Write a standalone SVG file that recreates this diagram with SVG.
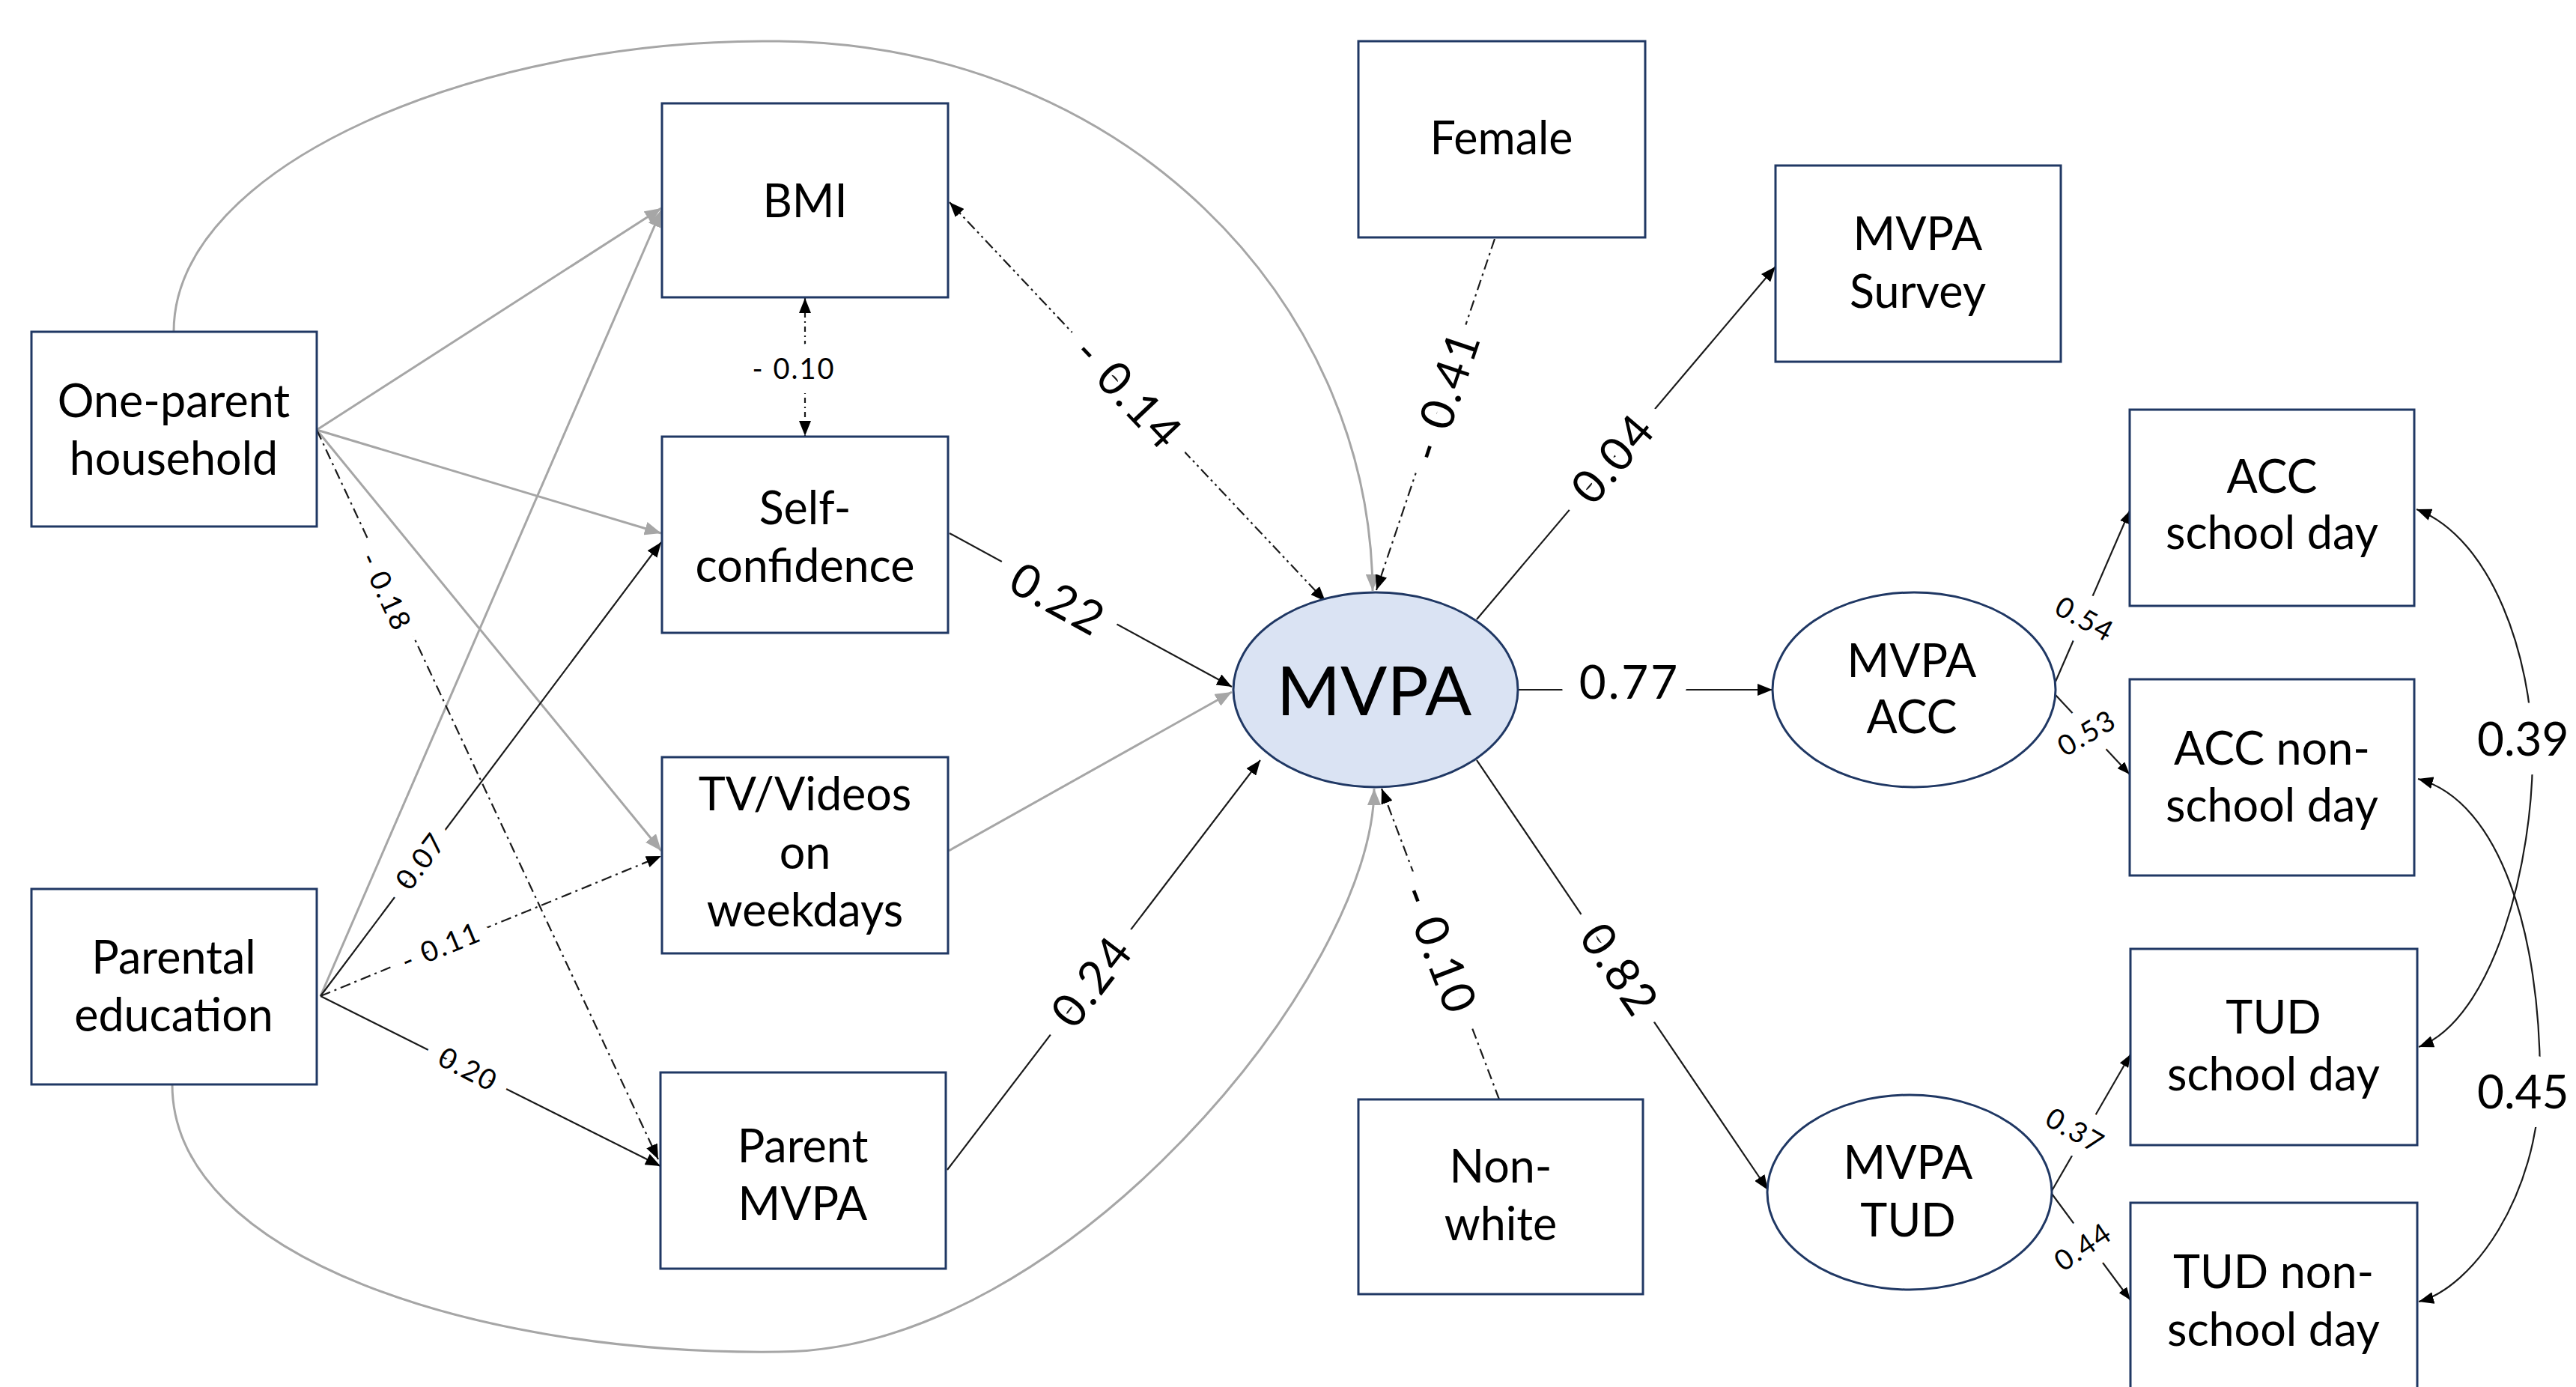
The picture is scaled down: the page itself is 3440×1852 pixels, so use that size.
<svg xmlns="http://www.w3.org/2000/svg" width="3440" height="1852" viewBox="0 0 3440 1852">
<style>
.box{fill:#fff;stroke:#203864;stroke-width:3}
.ell{fill:#fff;stroke:#203864;stroke-width:3}
.n{font-family:Lato,"Liberation Sans",sans-serif;font-size:61px;text-anchor:middle;fill:#000}
.g{fill:none;stroke:#a6a6a6;stroke-width:3}
.b{fill:none;stroke:#1a1a1a;stroke-width:2.2}
.dd{stroke-dasharray:14 6 3 6}
.ddd{stroke-dasharray:14 5 3 5 3 5}
.dv{stroke-dasharray:7 5 2 5}
.lb{font-family:Lato,"Liberation Sans",sans-serif;font-size:62px;letter-spacing:3px;text-anchor:middle;fill:#000;stroke:#fff;stroke-width:50;stroke-linejoin:round;paint-order:stroke}
.ls{font-family:Lato,"Liberation Sans",sans-serif;font-size:38px;letter-spacing:2px;text-anchor:middle;fill:#000;stroke:#fff;stroke-width:38;stroke-linejoin:round;paint-order:stroke}
.edge{letter-spacing:0;text-anchor:start}
</style>
<defs>
<marker id="ab" viewBox="0 0 20 16" refX="20" refY="8" markerWidth="20" markerHeight="16" markerUnits="userSpaceOnUse" orient="auto-start-reverse"><path d="M0,0 L20,8 L0,16 z" fill="#000"/></marker>
<marker id="ag" viewBox="0 0 22 18" refX="22" refY="9" markerWidth="22" markerHeight="18" markerUnits="userSpaceOnUse" orient="auto-start-reverse"><path d="M0,0 L22,9 L0,18 z" fill="#a6a6a6"/></marker>
<marker id="as" viewBox="0 0 17 13" refX="17" refY="6.5" markerWidth="17" markerHeight="13" markerUnits="userSpaceOnUse" orient="auto-start-reverse"><path d="M0,0 L17,6.5 L0,13 z" fill="#000"/></marker>
</defs>
<rect x="0" y="0" width="3440" height="1852" fill="#fff"/>
<g id="connectors">
<path class="g" marker-end="url(#ag)" d="M232,443 C232,220 640,50 1040,55 C1500,60 1830,400 1833,789"/>
<path class="g" marker-end="url(#ag)" d="M230,1448 C230,1680 640,1810 1040,1805 C1420,1805 1835,1300 1835,1053"/>
<line class="g" marker-end="url(#ag)" x1="423" y1="574" x2="883" y2="278"/>
<line class="g" marker-end="url(#ag)" x1="428" y1="1330" x2="883" y2="281"/>
<line class="g" marker-end="url(#ag)" x1="423" y1="574" x2="883" y2="712"/>
<line class="g" marker-end="url(#ag)" x1="423" y1="574" x2="883" y2="1136"/>
<line class="g" marker-end="url(#ag)" x1="1267" y1="1136" x2="1645" y2="924"/>
<line class="b" marker-end="url(#ab)" x1="428" y1="1330" x2="883" y2="724"/>
<line class="b dd" marker-end="url(#ab)" x1="428" y1="1330" x2="883" y2="1143"/>
<line class="b" marker-end="url(#ab)" x1="428" y1="1330" x2="882" y2="1557"/>
<line class="b dd" marker-end="url(#ab)" x1="423" y1="574" x2="879" y2="1548"/>
<line class="b dv" marker-start="url(#ab)" marker-end="url(#ab)" x1="1075" y1="398" x2="1075" y2="582"/>
<line class="b ddd" marker-start="url(#ab)" marker-end="url(#ab)" x1="1268" y1="270" x2="1770" y2="803"/>
<line class="b" marker-end="url(#ab)" x1="1268" y1="712" x2="1645" y2="917"/>
<line class="b" marker-end="url(#ab)" x1="1265" y1="1562" x2="1683" y2="1015"/>
<line class="b dd" marker-end="url(#ab)" x1="1996" y1="319" x2="1838" y2="788"/>
<line class="b dd" marker-end="url(#ab)" x1="2002" y1="1468" x2="1845" y2="1053"/>
<line class="b" marker-end="url(#ab)" x1="1972" y1="827" x2="2371" y2="356"/>
<line class="b" marker-end="url(#ab)" x1="2027" y1="921" x2="2367" y2="921"/>
<line class="b" marker-end="url(#ab)" x1="1972" y1="1015" x2="2361" y2="1589"/>
<line class="b" marker-end="url(#as)" x1="2745" y1="910" x2="2844" y2="682"/>
<line class="b" marker-end="url(#as)" x1="2745" y1="928" x2="2844" y2="1034"/>
<line class="b" marker-end="url(#as)" x1="2740" y1="1590" x2="2845" y2="1408"/>
<line class="b" marker-end="url(#as)" x1="2740" y1="1594" x2="2845" y2="1736"/>
<path class="b" marker-start="url(#ab)" marker-end="url(#ab)" d="M3227,680 C3330,720 3380,880 3382,1000 C3384,1150 3330,1360 3230,1398"/>
<path class="b" marker-start="url(#ab)" marker-end="url(#ab)" d="M3229,1040 C3340,1070 3392,1250 3392,1440 C3390,1600 3300,1720 3230,1738"/>
<text class="lb" transform="translate(1507,525) rotate(46.7)" y="22">- 0.14</text>
<text class="lb" transform="translate(1413,800) rotate(28.7)" y="22">0.22</text>
<text class="lb" transform="translate(1458,1310) rotate(-52.6)" y="22">0.24</text>
<text class="lb" transform="translate(1929,528) rotate(-71.3)" y="22">- 0.41</text>
<text class="lb" transform="translate(1922,1268) rotate(69)" y="22">- 0.10</text>
<text class="lb" transform="translate(2154,612) rotate(-49.8)" y="22">0.04</text>
<text class="lb" x="2176" y="933">0.77</text>
<text class="lb" transform="translate(2163,1295) rotate(55.9)" y="22">0.82</text>
<text class="lb edge" x="3308" y="1009">0.39</text>
<text class="lb edge" x="3308" y="1480">0.45</text>
<text class="ls" x="1060" y="506">- 0.10</text>
<text class="ls" transform="translate(515,790) rotate(65.1)" y="13">- 0.18</text>
<text class="ls" transform="translate(562,1150) rotate(-53.2)" y="13">0.07</text>
<text class="ls" transform="translate(589,1264) rotate(-22.4)" y="13">- 0.11</text>
<text class="ls" transform="translate(625,1428) rotate(27.4)" y="13">0.20</text>
<text class="ls" transform="translate(2784,827) rotate(29)" y="13">0.54</text>
<text class="ls" transform="translate(2787,979) rotate(-30.6)" y="13">0.53</text>
<text class="ls" transform="translate(2771,1510) rotate(29.6)" y="13">0.37</text>
<text class="ls" transform="translate(2782,1665) rotate(-34)" y="13">0.44</text>
</g>
<g id="node-one-parent"><rect class="box" x="42" y="443" width="381" height="260"/><text class="n" x="232" y="557">One-parent</text><text class="n" x="232" y="634">household</text></g>
<g id="node-parental-education"><rect class="box" x="42" y="1187" width="381" height="261"/><text class="n" x="232" y="1300">Parental</text><text class="n" x="232" y="1377">education</text></g>
<g id="node-bmi"><rect class="box" x="884" y="138" width="382" height="259"/><text class="n" x="1075" y="290">BMI</text></g>
<g id="node-self-confidence"><rect class="box" x="884" y="583" width="382" height="262"/><text class="n" x="1075" y="700">Self-</text><text class="n" x="1075" y="777">confidence</text></g>
<g id="node-tv"><rect class="box" x="884" y="1011" width="382" height="262"/><text class="n" x="1075" y="1082">TV/Videos</text><text class="n" x="1075" y="1160">on</text><text class="n" x="1075" y="1237">weekdays</text></g>
<g id="node-parent-mvpa"><rect class="box" x="882" y="1432" width="381" height="262"/><text class="n" x="1072" y="1552">Parent</text><text class="n" x="1072" y="1629">MVPA</text></g>
<g id="node-female"><rect class="box" x="1814" y="55" width="383" height="262"/><text class="n" x="2005" y="206">Female</text></g>
<g id="node-non-white"><rect class="box" x="1814" y="1468" width="380" height="260"/><text class="n" x="2004" y="1579">Non-</text><text class="n" x="2004" y="1656">white</text></g>
<g id="node-mvpa"><ellipse class="ell" cx="1837" cy="921" rx="190" ry="130" style="fill:#dae3f3"/><text class="n" x="1835" y="955" style="font-size:92px">MVPA</text></g>
<g id="node-mvpa-survey"><rect class="box" x="2371" y="221" width="381" height="262"/><text class="n" x="2561" y="334">MVPA</text><text class="n" x="2561" y="411">Survey</text></g>
<g id="node-mvpa-acc"><ellipse class="ell" cx="2556" cy="921" rx="189" ry="130"/><text class="n" x="2553" y="904">MVPA</text><text class="n" x="2553" y="979">ACC</text></g>
<g id="node-mvpa-tud"><ellipse class="ell" cx="2550" cy="1592" rx="190" ry="130"/><text class="n" x="2548" y="1574">MVPA</text><text class="n" x="2548" y="1651">TUD</text></g>
<g id="node-acc-school"><rect class="box" x="2844" y="547" width="380" height="262"/><text class="n" x="3034" y="658">ACC</text><text class="n" x="3034" y="733">school day</text></g>
<g id="node-acc-nonschool"><rect class="box" x="2844" y="907" width="380" height="262"/><text class="n" x="3034" y="1021">ACC non-</text><text class="n" x="3034" y="1097">school day</text></g>
<g id="node-tud-school"><rect class="box" x="2845" y="1267" width="383" height="262"/><text class="n" x="3036" y="1380">TUD</text><text class="n" x="3036" y="1456">school day</text></g>
<g id="node-tud-nonschool"><rect class="box" x="2845" y="1606" width="383" height="262"/><text class="n" x="3036" y="1720">TUD non-</text><text class="n" x="3036" y="1797">school day</text></g>
</svg>
